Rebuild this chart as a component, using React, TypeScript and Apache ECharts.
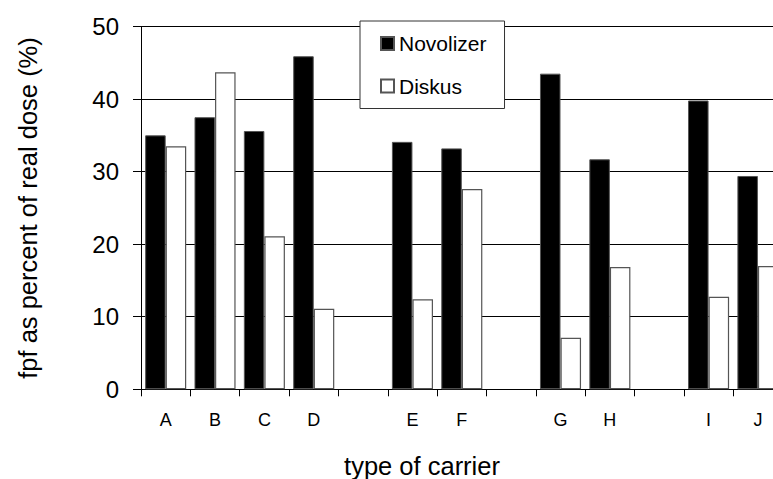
import React, { useEffect, useRef } from "react";
import * as echarts from "echarts";

const categories = ["A", "B", "C", "D", "gap1", "E", "F", "gap2", "G", "H", "gap3", "I", "J"];
const novolizer: (number | string)[] = [35.0, 37.5, 35.6, 45.9, "-", 34.1, 33.2, "-", 43.5, 31.7, "-", 39.8, 29.4];
const diskus: (number | string)[] = [33.5, 43.7, 21.1, 11.1, "-", 12.4, 27.6, "-", 7.1, 16.85, "-", 12.75, 17.0];
const yTitle = "fpf as percent of real dose (%)";
const xTitle = "type of carrier";

const FONT = "'Liberation Sans', Arial, sans-serif";

export default function App() {
  const ref = useRef<HTMLDivElement>(null);
  useEffect(() => {
    if (!ref.current) return;
    const chart = echarts.init(ref.current, undefined, { renderer: "svg" });
    chart.setOption({
      animation: false,
      backgroundColor: "#fff",
      grid: { left: 141, top: 26.5, right: 800 - 782.6, bottom: 479 - 389.3, containLabel: false },
      legend: {
        orient: "vertical",
        left: 360,
        top: 21,
        backgroundColor: "#fff",
        borderColor: "#333",
        borderWidth: 1,
        padding: [12, 18, 12, 20],
        itemGap: 21.5,
        itemWidth: 13,
        itemHeight: 13,
        itemTextGap: 6,
        icon: "rect",
        textStyle: { fontFamily: FONT, fontSize: 21, lineHeight: 21, color: "#000" },
        data: ["Novolizer", "Diskus"],
      },
      xAxis: {
        type: "category",
        data: categories,
        boundaryGap: true,
        axisLine: { show: true, lineStyle: { color: "#000", width: 1 } },
        axisTick: { show: true, interval: 0, length: 7, lineStyle: { color: "#000" } },
        axisLabel: {
          interval: 0,
          margin: 22,
          fontFamily: FONT,
          fontSize: 18,
          color: "#000",
          formatter: (v: string) => (v.startsWith("gap") ? "" : v),
        },
        splitLine: { show: false },
      },
      yAxis: {
        type: "value",
        min: 0,
        max: 50,
        interval: 10,
        axisLine: { show: true, lineStyle: { color: "#000", width: 1 } },
        axisTick: { show: true, length: 8, lineStyle: { color: "#000" } },
        axisLabel: { margin: 22, fontFamily: FONT, fontSize: 24, color: "#000" },
        splitLine: { show: true, lineStyle: { color: "#000", width: 1 } },
      },
      graphic: [
        {
          type: "text",
          x: 28,
          y: 208,
          rotation: Math.PI / 2,
          style: {
            text: yTitle,
            fontFamily: FONT,
            fontSize: 25.5,
            fill: "#000",
            align: "center",
            verticalAlign: "middle",
          },
        },
        {
          type: "text",
          x: 422,
          y: 466,
          style: {
            text: xTitle,
            fontFamily: FONT,
            fontSize: 25.5,
            fill: "#000",
            align: "center",
            verticalAlign: "middle",
          },
        },
      ],
      series: [
        {
          name: "Novolizer",
          type: "bar",
          data: novolizer,
          barGap: "0%",
          barCategoryGap: "16.8%",
          itemStyle: { color: "#000", borderColor: "#555", borderWidth: 1 },
        },
        {
          name: "Diskus",
          type: "bar",
          data: diskus,
          barGap: "0%",
          barCategoryGap: "16.8%",
          itemStyle: { color: "#fff", borderColor: "#555", borderWidth: 1.2 },
        },
      ],
    });
    return () => chart.dispose();
  }, []);
  return (
    <div style={{ position: "fixed", left: 0, top: 0, width: 773, height: 479, overflow: "hidden", background: "#fff" }}>
      <div ref={ref} style={{ width: 800, height: 479 }} />
    </div>
  );
}
